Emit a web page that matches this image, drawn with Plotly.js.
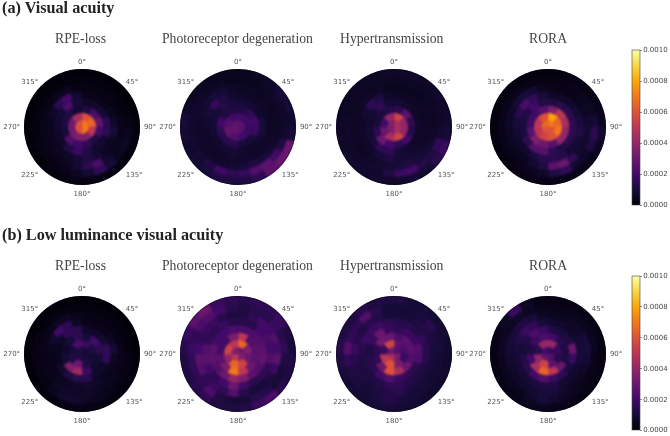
<!DOCTYPE html>
<html><head><meta charset="utf-8">
<script src="https://cdn.plot.ly/plotly-3.0.1.min.js"></script>
<style>
html,body{margin:0;padding:0;background:#fff}
#c{width:670px;height:436px}
#c .barlayer{filter:blur(1.1px)}
#c svg text{filter:blur(0.25px)}
</style></head><body><div id="c"></div>
<script>
// Cell values are in units of 1e-4. Rows are rings (centre outward); each ring's cells run clockwise from 0 deg.
const ringEdges=[0,.125,.25,.375,.5,.625,.75,.875,1];
const unit=1e-4;
const panelTitles=["RPE-loss","Photoreceptor degeneration","Hypertransmission","RORA"];
const angleLabels=["0°","45°","90°","135°","180°","225°","270°","315°"];
const angleTicks=[0,45,90,135,180,225,270,315];

const vaRPE=[
[7,7,6,6],
[6,6.5,5,3.5,3.5,3.2,3.2,4.5],
[1.2,2.2,2.8,2,1.2,1.6,2,2.4,1,1.2,1.2,.9],
[.7,.8,.9,1.5,1.5,.8,.8,1.2,1.8,1.2,.7,.7,.8,1,2.2,1],
[.4,.4,.4,.5,.7,1,.6,.6,.9,1.2,.9,.7,.6,.5,.5,.5,.7,1.5,2,.8],
[.3,.3,.3,.3,.3,.4,.4,.5,.5,.8,2.2,1.5,.9,.6,.4,.4,.4,.4,.4,.4,.4,.5,.5,.3],
[.2,.2,.2,.2,.2,.3,.5,.6,.5,1,1.6,.9,.6,.4,.3,.3,.3,.2,.2,.2,.2,.2,.2,.2],
[.1,.1,.1,.1,.1,.2,.2,.2,.2,.3,.3,.3,.3,.2,.2,.1,.1,.1,.1,.1,.1,.1,.1,.1]];
const vaPhoto=[
[2.6,2.6,2.8,2.8],
[2,1.9,1.8,2,2.4,2.8,2.4,2],
[1.2,1.6,2,1.8,1,1,1.4,1.4,1.5,2,1.2,1.2],
[1,.9,.8,1,1,.8,.7,.8,.9,.9,.8,.9,1,1,1.3,1.1],
[.7,.7,.7,.7,.6,.6,.7,.7,.7,.8,.8,.7,.7,.7,.7,.8,1,1.7,1.2,.8],
[.6,.6,.6,.6,.6,.6,.6,.7,.9,1,1.2,1,.9,.8,.7,.7,.7,.7,.7,.8,.9,1,.9,.7],
[.5,.5,.6,.8,.7,.7,.8,1.2,2,2.6,2.4,1.7,1.5,1.9,1.2,.9,.8,.8,.8,.8,.7,.6,.6,.5],
[.5,.6,.7,1,1,.8,1,3,3,2.6,1.5,1.2,1.2,1.2,1,.9,.8,.9,1,.7,.6,.6,.5,.5]];
const vaHyper=[
[4.5,4.5,3.5,3.5],
[5.5,4,4,5.5,4.5,3,2,4],
[1.5,2.5,1.5,1.3,2,1.6,2,3,1.5,1,1.1,1.3],
[.9,.8,.7,.7,.7,.7,.8,1,1.6,1.6,1,.9,.8,.9,1.6,.9],
[.6,.6,.6,.6,.6,.7,.7,.8,.9,.9,1.2,1,.8,.7,.7,.7,.9,1.5,1.2,.7],
[.5,.5,.5,.6,.6,.6,.7,.8,.9,1,1.2,1.1,.9,.8,.7,.6,.6,.6,.6,.6,.7,.7,.7,.5],
[.6,.6,.6,.6,.7,.7,.9,1.6,1.2,1.3,2,1.8,1.2,.8,.8,.7,.7,.7,.7,.6,.6,.6,.6,.6],
[.7,.7,.7,.8,.7,.8,1,1.8,1.4,.9,.9,.8,.8,.8,.8,.8,.7,.7,.7,.6,.6,.6,.6,.7]];
const vaRORA=[
[7,6,6,6.5],
[8,6.5,7,6,5.5,5,5,6],
[3.5,5,4.5,4,4,2.5,3,3.5,2.5,2,2,2.5],
[1.2,1.4,1.5,1.5,1.5,1.5,1.2,1.5,2.5,2.5,1.5,1.1,1.1,1.3,2,1.3],
[.7,.7,.8,.9,1.1,1.3,1,.9,1.4,1.5,1.4,1.1,.8,.8,.9,1,1.4,2.2,1.6,1],
[.4,.4,.4,.5,.6,.8,.9,.8,.8,1.6,3,2.6,1.2,.8,.5,.5,.6,.6,.7,.7,.9,1.1,.9,.5],
[.3,.3,.4,.5,.6,.9,1.5,1.2,.7,.8,1.6,1.2,.7,.5,.4,.4,.4,.4,.4,.4,.4,.4,.4,.3],
[.2,.3,.3,.3,.4,.5,.8,.6,.4,.4,.4,.4,.4,.3,.3,.2,.2,.2,.2,.2,.2,.2,.2,.2]];
const lumRPE=[
[.9,1,1.2,1.2],
[1.8,1.2,.9,1.2,3,1.2,1,2.2],
[1,2,1.6,.9,.8,1.8,4.2,3.5,.9,.7,1,1.5],
[.7,.7,.9,1.6,1.6,.7,.7,1.4,1.4,1.2,.8,.5,.5,.7,1.6,1.4],
[.4,.4,.4,.6,.9,.6,.5,.5,.7,.8,.7,.6,.5,.4,.4,.5,.8,2,1.6,.6],
[.3,.3,.3,.3,.3,.4,.4,.4,.5,.5,.6,.7,.7,.7,.6,.4,.4,.4,.4,.4,.4,.6,.6,.4],
[.2,.2,.2,.2,.2,.2,.3,.3,.3,.4,.5,.6,.8,.8,.5,.3,.3,.3,.3,.3,.2,.2,.2,.2],
[.1,.1,.1,.1,.1,.1,.1,.2,.2,.2,.3,.3,.3,.3,.2,.2,.1,.1,.1,.1,.1,.1,.1,.1]];
const lumPhoto=[
[3,3.5,5,3.5],
[6.5,3.5,3,5.5,6.5,4,5.5,5],
[5,2.4,2.6,2.6,3,5,7,3.4,2.6,2,2,3.4],
[2.2,2.2,2.4,2.6,2.8,2.4,2.6,3.5,4,3,2.4,2.6,2.6,2,2,2.2],
[1.4,1.4,2,2.2,2,2.4,1.6,1.6,1.4,2,3,2,1.6,2,2.6,2.4,1.6,1.5,1.8,1.4],
[1.2,1.6,2,2,2.4,2,2.6,1.8,1.2,1,1,1.4,2.4,1.6,1.8,1.6,2.4,2.6,2,1.6,1.8,1.8,1.4,1.2],
[1.2,1.4,1.4,1.8,1.4,1.6,1.2,1,1,1.3,1.4,1,1,1.2,2.2,1.6,1.6,1.6,1.8,1.6,2.2,2.4,2,1.4],
[1.4,1.6,1.6,1.8,1.2,1,1.2,1.2,1.4,2.2,1.8,1.3,1.2,1.2,1.6,1.4,1.2,1.2,1.4,1.8,2.6,3,1.8,1.6]];
const lumHyper=[
[2.4,3.4,4.6,3],
[2.6,2.2,1.8,3.4,6,5,1.8,5.5],
[2.2,2.6,2.6,2.4,3,4.5,6,3,1.6,1.5,3.2,3],
[1.6,1.8,1.8,2.4,2.2,1.4,1.6,1.8,2.4,2,1.5,1.4,1.2,1.8,3,1.8],
[1.4,1.4,1.3,1.6,1.4,1.4,1.2,1.2,1.3,1.6,1.6,1.3,1.2,1.2,1.2,1.4,1.8,1.8,1.8,1.5],
[1,1,1.2,1.3,1.2,1.1,1,1,1,1,1.1,1.4,1.3,1.2,1,1.2,1.2,1.4,1.8,1.4,1.2,1.4,1.3,1],
[1,1,1.1,1.4,1,1,.9,.9,.9,.9,1,1.1,1.3,1.1,1,1.1,1.2,1.6,2.4,1.6,1.6,2.4,1.4,1],
[1.2,1,1,.9,.9,.8,.8,.8,.8,.8,.9,.9,1,1,.9,.9,1,1.2,1.4,1.2,1.2,1.4,1.2,1.2]];
const lumRORA=[
[1.6,2.4,2.8,2],
[4,1.8,1.4,2.6,5.5,4,1.5,4],
[2,1.4,1.2,1.2,3,5,6.5,4.5,2,1.2,1.8,2.2],
[1.2,1.1,1.2,3,1.8,1.1,1.5,1.8,2.4,2,1.4,1.3,1,1.3,2.2,1.8],
[.8,.8,.7,.9,1,1,.8,.8,.9,1.2,1.2,1.1,.9,.9,.9,1,1.3,1.8,1.6,1],
[.5,.5,.6,.7,1,1.1,.9,.7,.6,.6,.8,1,1,.9,.8,.7,.7,.8,.9,1,1.1,1.2,1,.6],
[.4,.4,.5,.5,.5,.5,.4,.4,.4,.5,.6,.8,1,.7,.5,.5,.5,.5,.6,.6,.6,.7,.6,.4],
[.3,.3,.3,.3,.3,.3,.3,.3,.3,.3,.4,.4,.5,.5,.4,.3,.3,.3,.3,.4,.6,1.8,.6,.3]];

const matrices=[vaRPE,vaPhoto,vaHyper,vaRORA,lumRPE,lumPhoto,lumHyper,lumRORA];
const inferno=[[0,'#000004'],[.1,'#160b39'],[.2,'#420a68'],[.3,'#6a176e'],[.4,'#932667'],[.5,'#bc3754'],[.6,'#dd513a'],[.7,'#f37819'],[.8,'#fca50a'],[.9,'#f6d746'],[1,'#fcffa4']];

const W=670,H=436,R=58;
const cx=[82,238,394,548], cy=[127,354], titleX=[80,237,392,548], titleY=[38,265];
const serif='"Liberation Serif",serif', sans='"DejaVu Sans",sans-serif';
const traces=[], layout={width:W,height:H,margin:{l:0,r:0,t:0,b:0},paper_bgcolor:'#fff',showlegend:false,annotations:[]};

matrices.forEach((m,i)=>{
  const col=i%4,row=i<4?0:1,sp=i?'polar'+(i+1):'polar';
  const r=[],base=[],theta=[],color=[],width=[];
  m.forEach((vals,ri)=>vals.forEach((v,si)=>{
    const w=360/vals.length;
    base.push(ringEdges[ri]);r.push(ringEdges[ri+1]-ringEdges[ri]);
    theta.push((si+.5)*w);width.push(w);color.push(v*unit);
  }));
  const t={type:'barpolar',subplot:sp,r,base,theta,width,
    marker:{color,colorscale:inferno,cmin:0,cmax:.001,showscale:col===3,
      line:{width:.8,color,colorscale:inferno,cmin:0,cmax:.001}}};
  if(col===3) t.marker.colorbar={x:632/W,xanchor:'left',thickness:8,thicknessmode:'pixels',
    len:row?154:155,lenmode:'pixels',y:1-(row?276:50)/H,yanchor:'top',ypad:0,xpad:0,
    outlinewidth:.6,outlinecolor:'#444',tickmode:'array',tickvals:[0,.0002,.0004,.0006,.0008,.001],
    tickformat:'.4f',ticks:'outside',ticklen:2,tickwidth:.6,tickcolor:'#444',
    tickfont:{family:sans,size:7,color:'#444'}};
  traces.push(t);
  layout[sp]={
    domain:{x:[(cx[col]-R)/W,(cx[col]+R)/W],y:[1-(cy[row]+R)/H,1-(cy[row]-R)/H]},
    bgcolor:'#05030f',
    radialaxis:{visible:false,range:[0,1]},
    angularaxis:{rotation:90,direction:'clockwise',tickmode:'array',tickvals:angleTicks,ticktext:angleLabels,
      showgrid:false,ticks:'outside',ticklen:2,tickcolor:'rgba(0,0,0,0)',showline:false,tickfont:{family:sans,size:7,color:'#555'}}
  };
  layout.annotations.push({text:panelTitles[col],xref:'paper',yref:'paper',x:titleX[col]/W,y:1-titleY[row]/H,
    showarrow:false,xanchor:'center',yanchor:'middle',font:{family:serif,size:13.7,color:'#444'}});
});
[["(a) Visual acuity",8],["(b) Low luminance visual acuity",235]].forEach(([txt,y])=>{
  layout.annotations.push({text:'<b>'+txt+'</b>',xref:'paper',yref:'paper',x:0,y:1-y/H,showarrow:false,
    xanchor:'left',yanchor:'middle',font:{family:serif,size:16.2,color:'#222'}});
});
Plotly.newPlot('c',traces,layout,{staticPlot:true,displayModeBar:false});
</script></body></html>
